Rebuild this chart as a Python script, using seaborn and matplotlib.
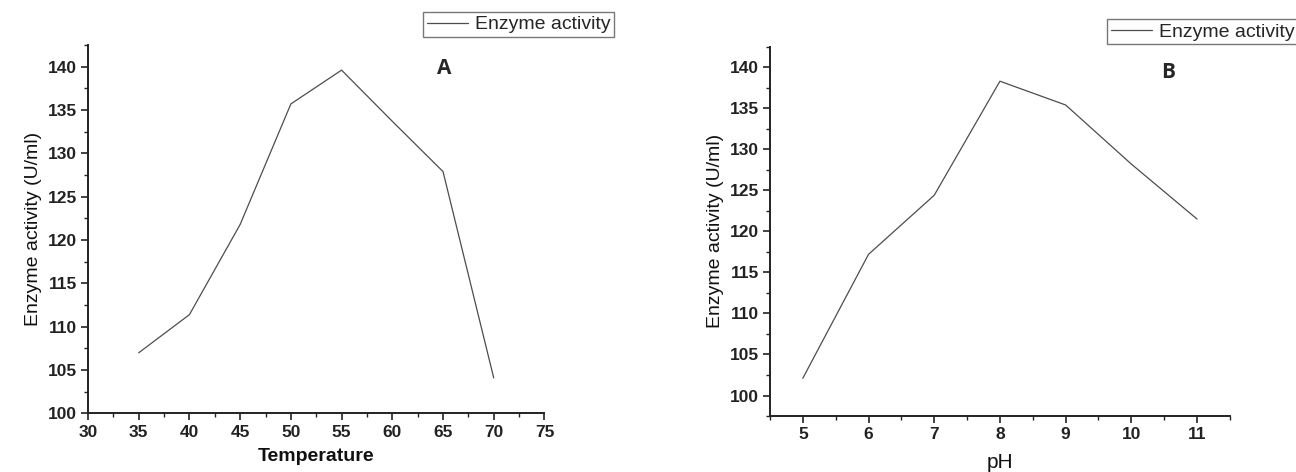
import matplotlib
matplotlib.use("Agg")
import matplotlib.pyplot as plt
from matplotlib.ticker import MultipleLocator
import seaborn as sns
import pandas as pd

temperature = [35, 40, 45, 50, 55, 60, 65, 70]
activity_temp = [107.0, 111.4, 121.8, 135.7, 139.6, 133.7, 127.9, 104.1]
ph = [5, 6, 7, 8, 9, 10, 11]
activity_ph = [102.1, 117.2, 124.4, 138.3, 135.4, 128.2, 121.5]
series_name = "Enzyme activity"

sns.set_style("ticks")
plt.rcParams['font.family'] = ['Liberation Sans', 'DejaVu Sans']

fig = plt.figure(figsize=(12.96, 4.72), dpi=100)
axA = fig.add_axes([0.0679, 0.124, 0.3522, 0.7807])
axB = fig.add_axes([0.5941, 0.1186, 0.3549, 0.7824])

dfA = pd.DataFrame({"Temperature": temperature, "Activity": activity_temp, "s": series_name})
dfB = pd.DataFrame({"pH": ph, "Activity": activity_ph, "s": series_name})

lc = "#4d4d4d"
sns.lineplot(data=dfA, x="Temperature", y="Activity", ax=axA, color=lc, lw=0.9, legend=False)
sns.lineplot(data=dfB, x="pH", y="Activity", ax=axB, color=lc, lw=0.9, legend=False)

for ax in (axA, axB):
    for s in ("top", "right"):
        ax.spines[s].set_visible(False)
    for s in ("left", "bottom"):
        ax.spines[s].set_linewidth(1.4)
        ax.spines[s].set_color("#222222")
    ax.tick_params(which="major", length=5, width=1.2, colors="#222222", pad=3)
    ax.tick_params(which="minor", length=3, width=1.0, colors="#222222")
    ax.yaxis.set_major_locator(MultipleLocator(5))
    ax.yaxis.set_minor_locator(MultipleLocator(2.5))
    ax.set_ylabel("Enzyme activity (U/ml)", fontsize=14, color="#111111", labelpad=4)

axA.set_xlim(30, 75)
axA.set_ylim(100, 142.5)
axA.xaxis.set_major_locator(MultipleLocator(5))
axA.xaxis.set_minor_locator(MultipleLocator(2.5))
axA.set_xlabel("Temperature", fontsize=14, fontweight="bold", color="#111111", labelpad=6)

axB.set_xlim(4.5, 11.5)
axB.set_ylim(97.5, 142.5)
axB.set_yticks([100, 105, 110, 115, 120, 125, 130, 135, 140])
axB.yaxis.set_minor_locator(MultipleLocator(2.5))
axB.set_xticks([5, 6, 7, 8, 9, 10, 11])
axB.xaxis.set_minor_locator(MultipleLocator(0.5))
axB.set_xlabel("pH", fontsize=15, color="#111111", labelpad=8)

for ax in (axA, axB):
    for lab in ax.get_xticklabels() + ax.get_yticklabels():
        lab.set_fontweight("bold")
        lab.set_fontsize(12.5)

axA.text(0.781, 0.935, "A", transform=axA.transAxes, fontsize=15, fontweight="bold",
         ha="center", va="center", family=["Open Sans", "DejaVu Sans"])
axB.text(0.865, 0.929, "B", transform=axB.transAxes, fontsize=15, fontweight="bold",
         ha="center", va="center", family=["Open Sans", "DejaVu Sans"])

# legends
hA, = axA.plot([], [], color=lc, lw=0.9)
hB, = axB.plot([], [], color=lc, lw=0.9)
legA = fig.legend([hA], [series_name], loc="upper left", bbox_to_anchor=(0.3264, 0.9746),
                  frameon=True, fancybox=False, fontsize=14, handlelength=2.1,
                  borderpad=0.2, handletextpad=0.35, borderaxespad=0)
legB = fig.legend([hB], [series_name], loc="upper left", bbox_to_anchor=(0.8545, 0.9597),
                  frameon=True, fancybox=False, fontsize=14, handlelength=2.1,
                  borderpad=0.2, handletextpad=0.35, borderaxespad=0)
for leg in (legA, legB):
    leg.get_frame().set_edgecolor("#555555")
    leg.get_frame().set_linewidth(1.0)

fig.savefig("out.png", dpi=100)
